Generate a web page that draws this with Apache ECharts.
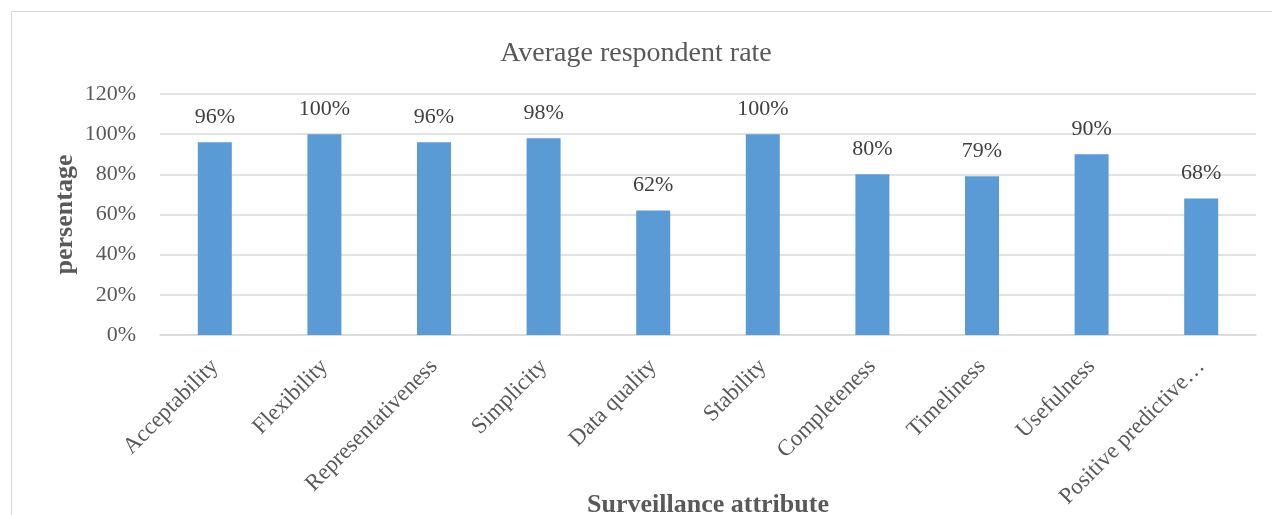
<!DOCTYPE html>
<html>
<head>
<meta charset="utf-8">
<script src="https://cdn.jsdelivr.net/npm/echarts@6/dist/echarts.min.js"></script>
<style>
  html, body { margin: 0; padding: 0; background: #ffffff; }
  #chart { width: 1272px; height: 515px; }
</style>
</head>
<body>
<div id="chart"></div>
<script>
// Surveillance attributes and their average respondent rate (%)
const categories = [
  'Acceptability', 'Flexibility', 'Representativeness', 'Simplicity', 'Data quality',
  'Stability', 'Completeness', 'Timeliness', 'Usefulness', 'Positive predictive value'
];
const rates = [96, 100, 96, 98, 62, 100, 80, 79, 90, 68];
const yTicks = [0, 20, 40, 60, 80, 100, 120];

const serif = '"Liberation Serif", "Times New Roman", serif';
const chart = echarts.init(document.getElementById('chart'), null, { renderer: 'canvas' });

chart.setOption({
  backgroundColor: '#ffffff',
  animation: false,
  title: {
    text: 'Average respondent rate',
    left: 'center',
    top: 35,
    textStyle: { fontFamily: serif, fontSize: 28, fontWeight: 'normal', color: '#595959' }
  },
  graphic: [{
    type: 'rect',
    shape: { x: 11.5, y: 11.5, width: 1300, height: 600 },
    style: { fill: 'none', stroke: '#d9d9d9', lineWidth: 1 },
    silent: true
  }],
  grid: {
    left: 160, right: 16, top: 94, bottom: 180,
    containLabel: false,
    outerBoundsMode: 'none'
  },
  xAxis: {
    type: 'category',
    data: categories,
    name: 'Surveillance attribute',
    nameLocation: 'middle',
    nameGap: 157,
    nameMoveOverlap: false,
    nameTextStyle: { fontFamily: serif, fontSize: 26, fontWeight: 'bold', color: '#595959' },
    axisLine: { lineStyle: { color: '#d9d9d9', width: 1.5 } },
    axisTick: { show: false },
    axisLabel: {
      rotate: 45,
      interval: 0,
      margin: 28,
      fontFamily: serif,
      fontSize: 23,
      color: '#595959',
      formatter: v => (v.length > 20 ? v.slice(0, 19) + '…' : v)
    }
  },
  yAxis: {
    type: 'value',
    min: yTicks[0],
    max: yTicks[yTicks.length - 1],
    interval: yTicks[1] - yTicks[0],
    name: 'persentage',
    nameLocation: 'middle',
    nameGap: 82,
    nameMoveOverlap: false,
    nameTextStyle: { fontFamily: serif, fontSize: 26, fontWeight: 'bold', color: '#595959' },
    axisLine: { show: false },
    axisTick: { show: false },
    axisLabel: {
      margin: 24,
      fontFamily: serif,
      fontSize: 22,
      color: '#595959',
      formatter: v => v + '%'
    },
    splitLine: { lineStyle: { color: '#d9d9d9', width: 1.5 } }
  },
  series: [{
    type: 'bar',
    data: rates,
    barWidth: 34,
    itemStyle: { color: '#5b9bd5' },
    label: {
      show: true,
      position: 'top',
      distance: 14,
      fontFamily: serif,
      fontSize: 22,
      color: '#404040',
      formatter: p => p.value + '%'
    }
  }]
});
</script>
</body>
</html>
